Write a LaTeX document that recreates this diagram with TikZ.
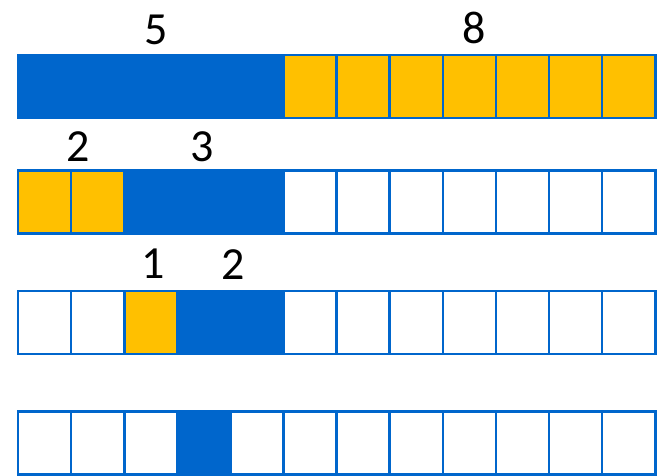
\documentclass[tikz,border=0pt]{standalone}
\usepackage{fontspec}
\setmainfont{Carlito}
\definecolor{cblue}{HTML}{0066CC}
\definecolor{cyellow}{HTML}{FFC000}
\begin{document}
\begin{tikzpicture}[x=1pt,y=-1pt,
  cell/.style={draw=cblue, line width=2.6pt, minimum width=53.1pt, minimum height=63pt, inner sep=0pt, outer sep=0pt},
  wc/.style={cell, fill=white},
  yc/.style={cell, fill=cyellow},
  bc/.style={cell, fill=cblue},
  num/.style={font=\fontsize{46}{48}\selectfont, inner sep=0pt, anchor=center}]
\useasboundingbox (0,0) rectangle (662,475);
% row 1
\foreach \i in {0,...,4} \node[bc] (a\i) at ({18+53.1*\i+26.55},86.5) {};
\foreach \i in {5,...,11} \node[yc] (a\i) at ({18+53.1*\i+26.55},86.5) {};
% row 2
\foreach \i in {0,1} \node[yc] (b\i) at ({18+53.1*\i+26.55},202) {};
\foreach \i in {2,...,4} \node[bc] (b\i) at ({18+53.1*\i+26.55},202) {};
\foreach \i in {5,...,11} \node[wc] (b\i) at ({18+53.1*\i+26.55},202) {};
% row 3
\foreach \i in {0,1,5,6,7,8,9,10,11} \node[wc] (c\i) at ({18+53.1*\i+26.55},322.5) {};
\node[yc] (c2) at ({18+53.1*2+26.55},322.5) {};
\foreach \i in {3,4} \node[bc] (c\i) at ({18+53.1*\i+26.55},322.5) {};
% row 4
\foreach \i in {0,1,2,4,5,6,7,8,9,10,11} \node[wc] (d\i) at ({18+53.1*\i+26.55},443) {};
\node[bc] (d3) at ({18+53.1*3+26.55},443) {};
% labels
\node[num] (l5) at (156,30) {5};
\node[num] (l8) at (474,28) {8};
\node[num] (l2a) at (78,147) {2};
\node[num] (l3) at (202,147) {3};
\node[num] (l1) at (153,264) {1};
\node[num] (l2b) at (233,265) {2};
\end{tikzpicture}
\end{document}
